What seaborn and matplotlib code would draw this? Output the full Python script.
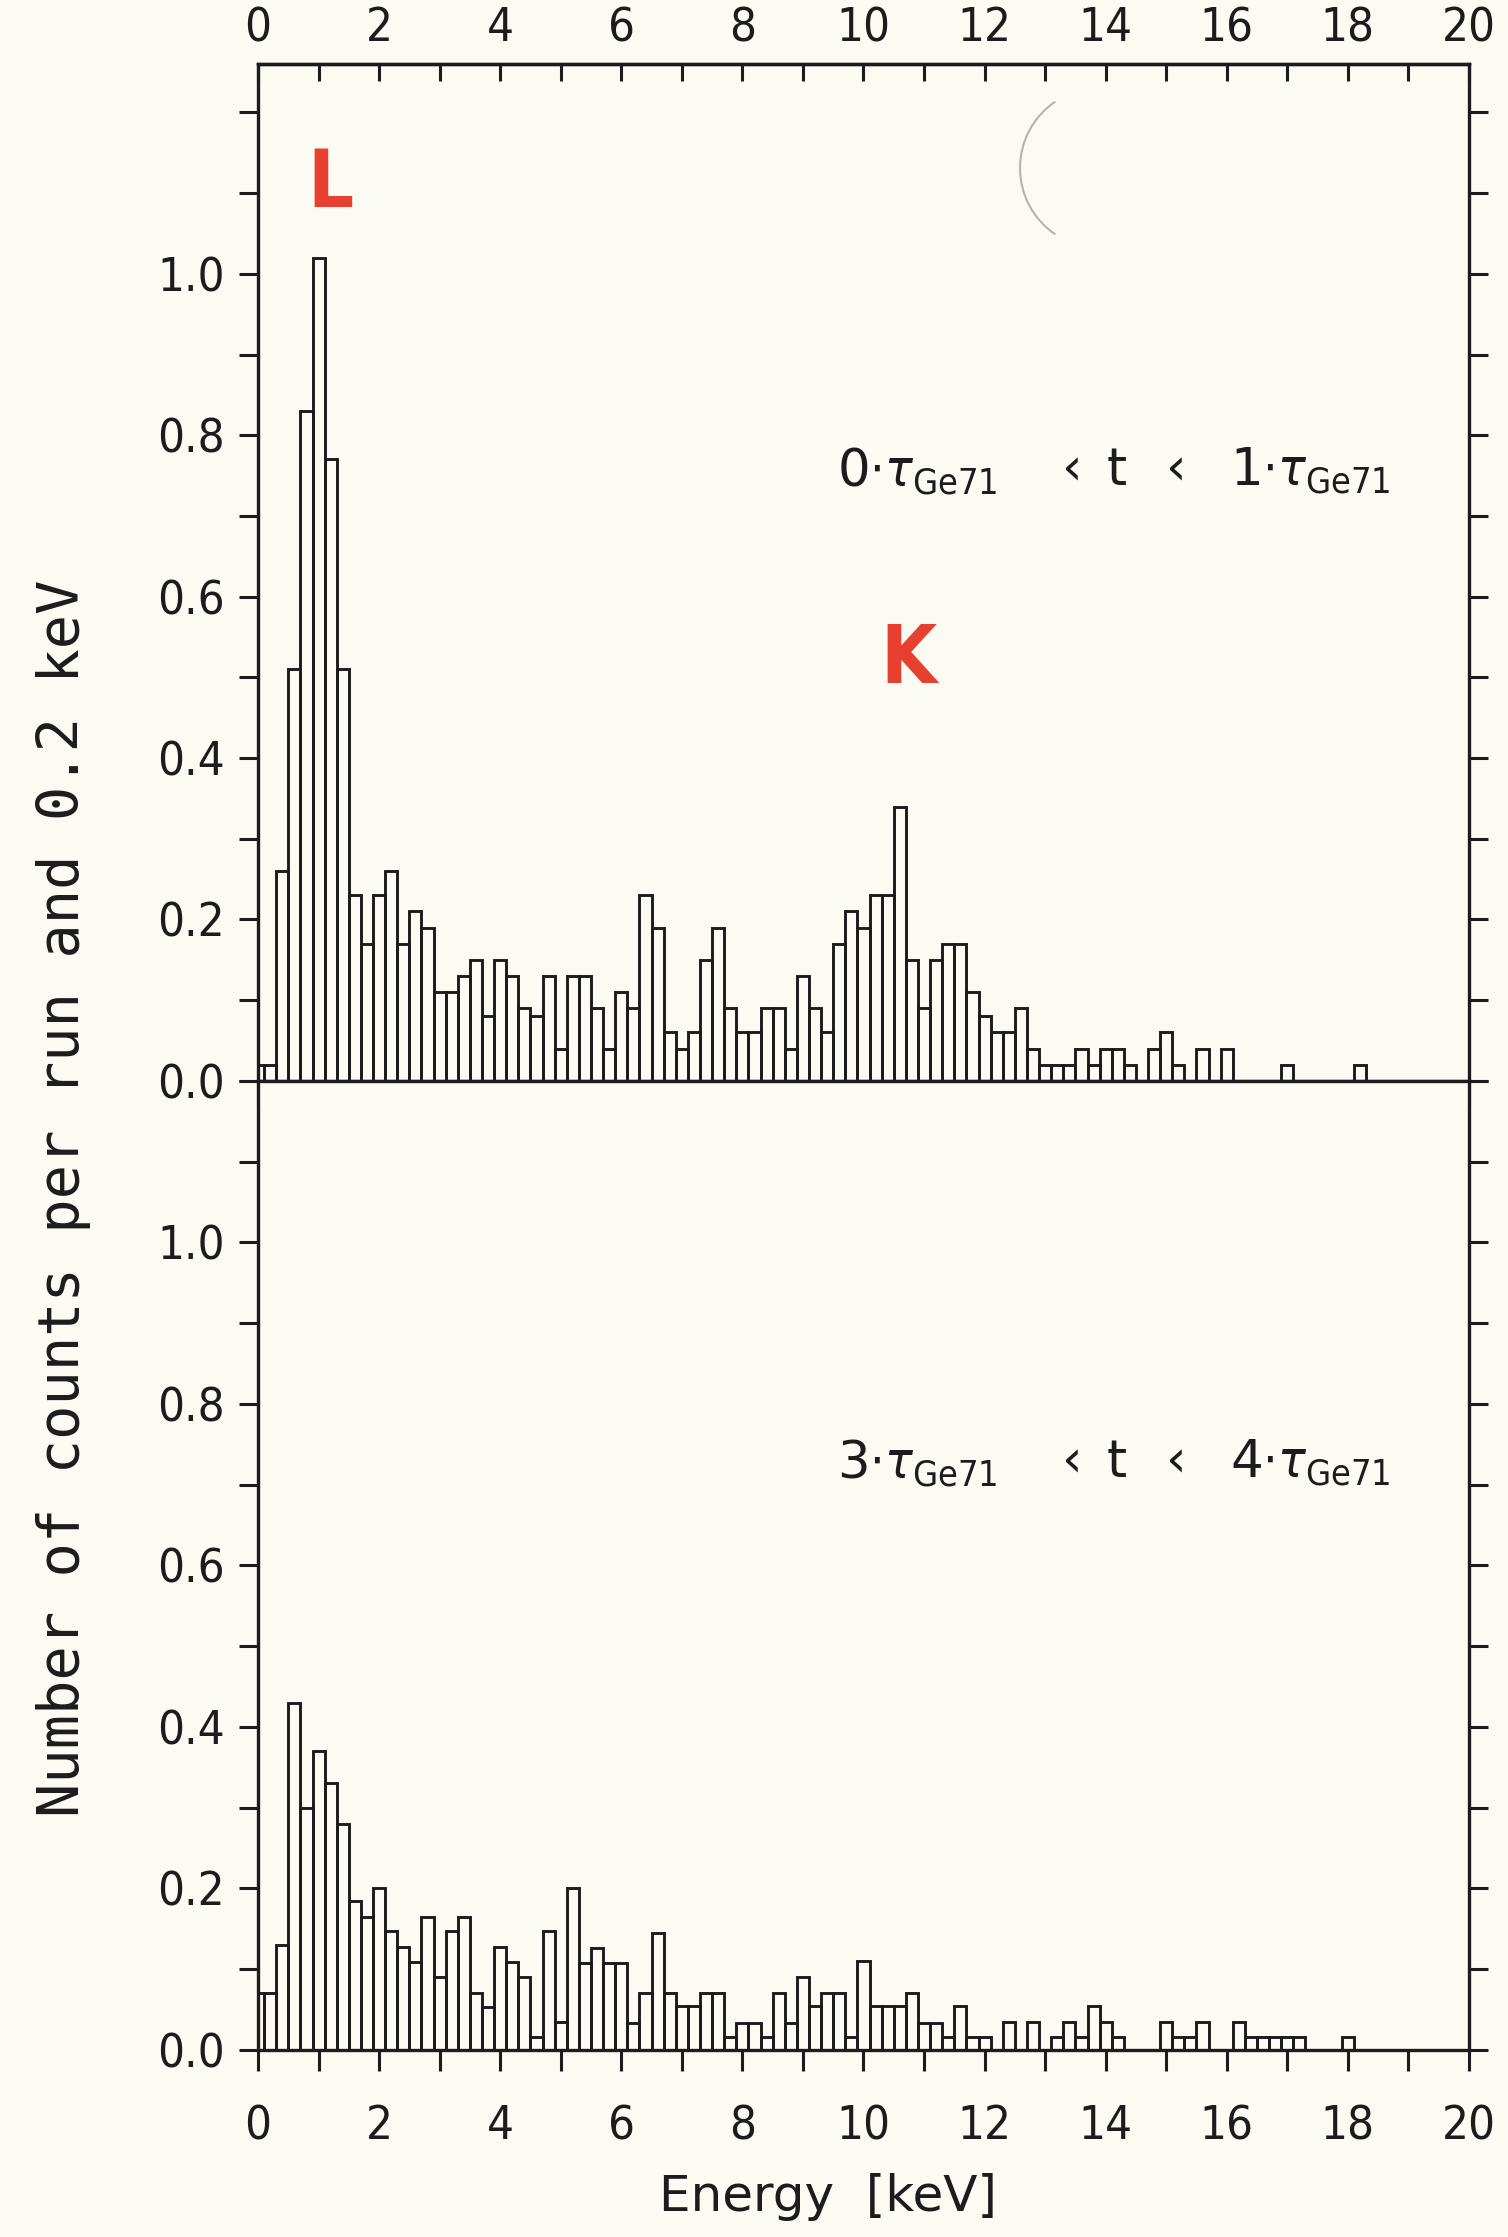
import numpy as np
import pandas as pd
import matplotlib
matplotlib.use("Agg")
import matplotlib.pyplot as plt
import seaborn as sns
from matplotlib.ticker import MultipleLocator, FixedLocator, FormatStrFormatter
from matplotlib.patches import Arc

# ---------------- data ----------------
# bin centres in keV (0.2 keV wide bins)
energy_kev = np.round(np.arange(0, 20, 0.2), 1)

# 0 < t < 1 tau
counts_early = [
    0.02, 0.02, 0.26, 0.51, 0.83, 1.02, 0.77, 0.51, 0.23, 0.17,   # 0.0 - 1.8
    0.23, 0.26, 0.17, 0.21, 0.19, 0.11, 0.11, 0.13, 0.15, 0.08,   # 2.0 - 3.8
    0.15, 0.13, 0.09, 0.08, 0.13, 0.04, 0.13, 0.13, 0.09, 0.04,   # 4.0 - 5.8
    0.11, 0.09, 0.23, 0.19, 0.06, 0.04, 0.06, 0.15, 0.19, 0.09,   # 6.0 - 7.8
    0.06, 0.06, 0.09, 0.09, 0.04, 0.13, 0.09, 0.06, 0.17, 0.21,   # 8.0 - 9.8
    0.19, 0.23, 0.23, 0.34, 0.15, 0.09, 0.15, 0.17, 0.17, 0.11,   # 10.0 - 11.8
    0.08, 0.06, 0.06, 0.09, 0.04, 0.02, 0.02, 0.02, 0.04, 0.02,   # 12.0 - 13.8
    0.04, 0.04, 0.02, 0.00, 0.04, 0.06, 0.02, 0.00, 0.04, 0.00,   # 14.0 - 15.8
    0.04, 0.00, 0.00, 0.00, 0.00, 0.02, 0.00, 0.00, 0.00, 0.00,   # 16.0 - 17.8
    0.00, 0.02, 0.00, 0.00, 0.00, 0.00, 0.00, 0.00, 0.00, 0.00,   # 18.0 - 19.8
]

# 3 < t < 4 tau
counts_late = [
    0.07, 0.07, 0.13, 0.43, 0.30, 0.37, 0.33, 0.28, 0.185, 0.165,
    0.20, 0.147, 0.127, 0.109, 0.165, 0.09, 0.147, 0.165, 0.07, 0.053,
    0.127, 0.109, 0.09, 0.016, 0.147, 0.035, 0.20, 0.108, 0.126, 0.108,
    0.108, 0.033, 0.071, 0.145, 0.071, 0.054, 0.054, 0.071, 0.071, 0.016,
    0.034, 0.034, 0.016, 0.071, 0.034, 0.09, 0.054, 0.071, 0.071, 0.016,
    0.11, 0.054, 0.054, 0.054, 0.071, 0.033, 0.033, 0.016, 0.054, 0.016,
    0.016, 0.00, 0.035, 0.00, 0.035, 0.00, 0.016, 0.035, 0.016, 0.054,
    0.035, 0.016, 0.00, 0.00, 0.00, 0.035, 0.016, 0.016, 0.035, 0.00,
    0.00, 0.035, 0.016, 0.016, 0.016, 0.016, 0.016, 0.00, 0.00, 0.00,
    0.016, 0.00, 0.00, 0.00, 0.00, 0.00, 0.00, 0.00, 0.00, 0.00,
]

x_ticks = [0, 2, 4, 6, 8, 10, 12, 14, 16, 18, 20]
y_ticks = [0.0, 0.2, 0.4, 0.6, 0.8, 1.0]
# time-window labels, split into pieces: (lower bound, '<', 't', '<', upper bound)
label_early = [r"0$\cdot\tau_{\rm Ge71}$", "‹", "t", "‹", r"1$\cdot\tau_{\rm Ge71}$"]
label_late = [r"3$\cdot\tau_{\rm Ge71}$", "‹", "t", "‹", r"4$\cdot\tau_{\rm Ge71}$"]
y_label = "Number of counts per run and 0.2 keV"
x_label = "Energy  [keV]"

# ---------------- style ----------------
sns.set_style("ticks")
bg = "#fbfbf3"
ink = "#1c1c1c"
plt.rcParams["font.family"] = ["DejaVu Sans"]
plt.rcParams["font.stretch"] = "condensed"
plt.rcParams["axes.facecolor"] = bg
plt.rcParams["figure.facecolor"] = bg
plt.rcParams["axes.edgecolor"] = ink
plt.rcParams["xtick.color"] = ink
plt.rcParams["ytick.color"] = ink
plt.rcParams["text.color"] = ink

fig = plt.figure(figsize=(15.08, 22.37), dpi=100)
ax1 = fig.add_axes([0.1711, 0.5168, 0.8030, 0.4546])
ax2 = fig.add_axes([0.1711, 0.0836, 0.8030, 0.4332])

df = pd.DataFrame({"energy": energy_kev, "early": counts_early, "late": counts_late})

for ax, col in ((ax1, "early"), (ax2, "late")):
    sns.histplot(data=df, x="energy", weights=col, binwidth=0.2, binrange=(-0.1, 19.9),
                 fill=False, color=ink, linewidth=2.1, ax=ax)
    ax.set_xlim(0, 20)
    ax.set_xlabel("")
    ax.set_ylabel("")
    for s in ax.spines.values():
        s.set_visible(True)
        s.set_linewidth(2.4)
        s.set_color(ink)
    ax.yaxis.set_major_locator(FixedLocator(y_ticks))
    ax.yaxis.set_minor_locator(MultipleLocator(0.1))
    ax.yaxis.set_major_formatter(FormatStrFormatter("%.1f"))
    ax.tick_params(axis="y", which="both", left=True, right=True, direction="out",
                   length=14, width=2.2, pad=10, labelsize=34)

ax1.set_ylim(0, 1.26)
ax2.set_ylim(0, 1.2)

# top panel: bottom ticks pointing down, no labels
ax1.xaxis.set_major_locator(MultipleLocator(1))
ax1.tick_params(axis="x", which="both", bottom=True, top=False, labelbottom=False,
                direction="out", length=18, width=2.2)
sec = ax1.secondary_xaxis("top")
sec.set_xticks(x_ticks)
sec.xaxis.set_minor_locator(MultipleLocator(1))
sec.tick_params(which="both", direction="in", length=12, width=2.2, pad=9, labelsize=34)
sec.spines["top"].set_linewidth(2.4)

# bottom panel: bottom ticks with labels
ax2.set_xticks(x_ticks)
ax2.xaxis.set_minor_locator(MultipleLocator(1))
ax2.tick_params(axis="x", which="both", bottom=True, top=False, direction="out",
                length=15, width=2.2, pad=24, labelsize=34)

# time-window annotations (x in keV)
piece_x = [9.56, 13.45, 14.18, 15.17, 16.05]
piece_ha = ["left", "center", "center", "center", "left"]
for ax, pieces, yv in ((ax1, label_early, 0.756), (ax2, label_late, 0.727)):
    for txt, xv, ha in zip(pieces, piece_x, piece_ha):
        ax.text(xv, yv, txt, fontsize=37, ha=ha, va="center", fontstretch="normal")

red = "#e8402e"
ax1.text(1.2, 1.11, "L", color=red, fontsize=58, fontweight="bold", ha="center", va="center")
ax1.text(10.75, 0.52, "K", color=red, fontsize=58, fontweight="bold", ha="center", va="center")

fig.add_artist(Arc((1100 / 1508, 1 - 168 / 2237), 160 / 1508, 160 / 2237,
                   theta1=135, theta2=225, color="#b5b5ad", lw=1.5,
                   transform=fig.transFigure))

fig.text(64 / 1508, 0.4645, y_label, rotation=90, ha="center", va="center",
         fontsize=41, family="DejaVu Sans Mono", fontstretch="normal")
fig.text(0.5487, 1 - 2197 / 2237, x_label, ha="center", va="center",
         fontsize=36, fontstretch="normal")

fig.savefig("out.png", dpi=100, facecolor=bg)
